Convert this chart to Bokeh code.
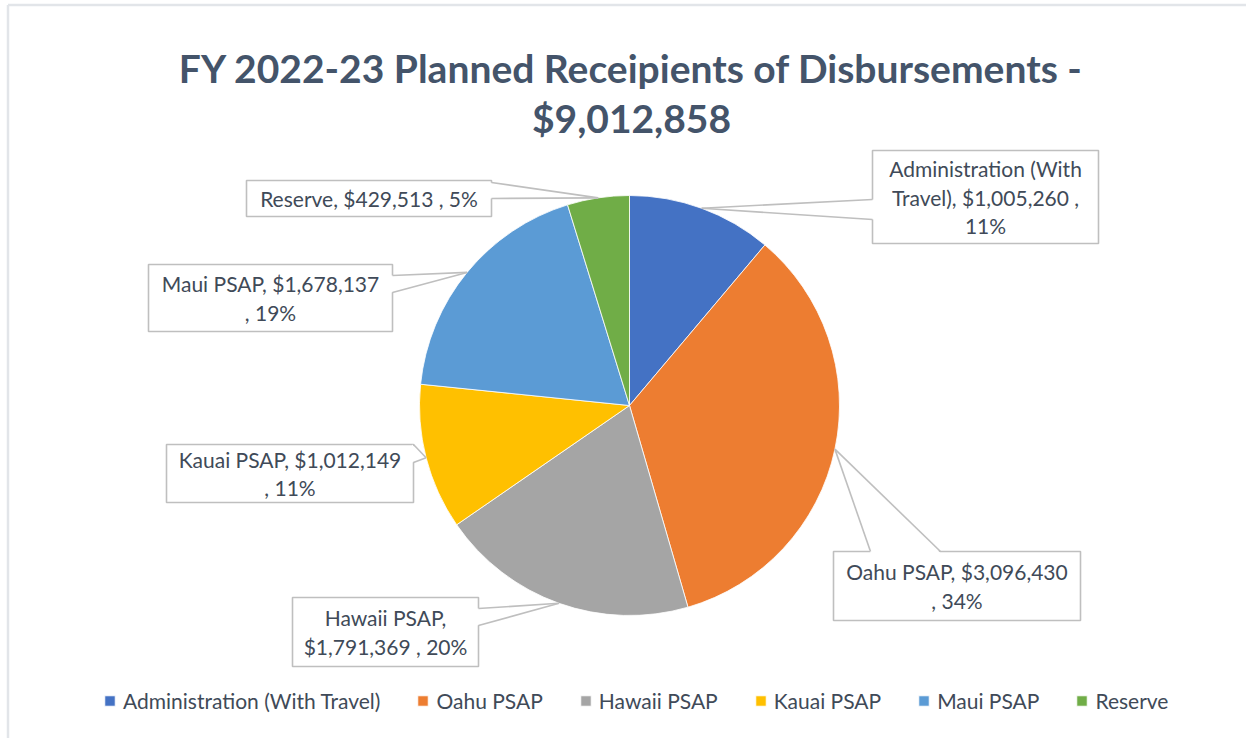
import math
from bokeh.plotting import figure
from bokeh.models import Legend, LegendItem, Label, ColumnDataSource
from bokeh.core.properties import value
from bokeh.embed import file_html
from bokeh.resources import INLINE

# ---------------- data ----------------
categories = ["Administration (With Travel)", "Oahu PSAP", "Hawaii PSAP",
              "Kauai PSAP", "Maui PSAP", "Reserve"]
amounts = [1005260, 3096430, 1791369, 1012149, 1678137, 429513]
title_text = "FY 2022-23 Planned Receipients of Disbursements -"

# ---------------- style / layout ----------------
colors = ["#4472C4", "#ED7D31", "#A5A5A5", "#FFC000", "#5B9BD5", "#70AD47"]
W, H = 1246, 738
CX, CY, R = 629, 405, 210            # pie centre / radius (px, from top-left)
FONT = "Lato"
TXT = "#404A58"
GRAY = "#BFBFBF"

# label boxes: (left, top, right, bottom) in px, wrap width (chars), pointer base points
label_boxes = [
    (872, 150, 1098, 243),
    (833, 551, 1080, 620),
    (292, 597, 478, 666),
    (166, 444, 413, 502),
    (148, 264, 392, 331),
    (246, 180, 491, 216),
]
wrap_widths = [21, 21, 16, 22, 21, 22]
pointer_bases = [
    ((872, 199), (872, 219)),
    ((870, 551), (940, 551)),
    ((478, 608), (478, 625)),
    ((413, 444), (413, 462)),
    ((392, 275), (392, 292)),
    ((491, 182), (491, 198)),
]


def Y(py):
    return H - py


def wrap(s, n):
    words = s.split(" ")
    lines, cur = [], ""
    for w in words:
        t = w if not cur else cur + " " + w
        if len(t) <= n or not cur:
            cur = t
        else:
            lines.append(cur)
            cur = w
    lines.append(cur)
    return "\n".join(lines)


total = sum(amounts)
fracs = [a / total for a in amounts]
starts, ends, mids = [], [], []
c = 0.0
for f in fracs:
    starts.append(math.pi / 2 - 2 * math.pi * c)
    mids.append(math.pi / 2 - 2 * math.pi * (c + f / 2))
    c += f
    ends.append(math.pi / 2 - 2 * math.pi * c)

p = figure(width=W, height=H, x_range=(0, W), y_range=(0, H),
           min_border=0, toolbar_location=None, output_backend="svg",
           x_axis_location=None, y_axis_location=None)
p.grid.visible = False
p.outline_line_color = None
p.background_fill_color = "white"
p.border_fill_color = "white"

# screenshot border lines (top / left)
p.segment(x0=[7.5, 7.5], y0=[Y(4.5), Y(4.5)], x1=[W, 7.5], y1=[Y(4.5), 0],
          line_color="#E2E5E9", line_width=2.5)

src = ColumnDataSource(dict(x=[CX] * len(amounts), y=[Y(CY)] * len(amounts),
                            start=starts, end=ends, color=colors))
wr = p.wedge(x="x", y="y", radius=R, start_angle="start", end_angle="end",
             direction="clock", fill_color="color", line_color="white",
             line_width=0.8, source=src)

# label boxes
bx, by, bw, bh = [], [], [], []
for (l, t, r, b) in label_boxes:
    bx.append((l + r) / 2)
    by.append(Y((t + b) / 2))
    bw.append(r - l)
    bh.append(b - t)
p.rect(x=bx, y=by, width=bw, height=bh, fill_color="white",
       line_color=GRAY, line_width=1.6)

# pointers
pxs, pys, lxs, lys = [], [], [], []
for i, ((x1, y1), (x2, y2)) in enumerate(pointer_bases):
    ax = CX + R * math.cos(mids[i])
    ay = Y(CY) + R * math.sin(mids[i])
    l, t, r, b = label_boxes[i]

    def inset(x, y):
        if x <= l + 0.5:
            return x + 1.5, y
        if x >= r - 0.5:
            return x - 1.5, y
        if y <= t + 0.5:
            return x, y + 1.5
        return x, y - 1.5
    ix1, iy1 = inset(x1, y1)
    ix2, iy2 = inset(x2, y2)
    pxs.append([ax, ix1, ix2])
    pys.append([ay, Y(iy1), Y(iy2)])
    lxs += [[ax, x1], [ax, x2]]
    lys += [[ay, Y(y1)], [ay, Y(y2)]]
p.patches(xs=pxs, ys=pys, fill_color="white", line_color=None)
p.multi_line(xs=lxs, ys=lys, line_color=GRAY, line_width=1.6)

# label texts
texts = []
for i, (cat, amt) in enumerate(zip(categories, amounts)):
    pct = round(100 * amt / total)
    s = f"{cat}, ${amt:,} , {pct}%"
    texts.append(wrap(s, wrap_widths[i]))
p.text(x=bx, y=by, text=texts, text_align="center", text_baseline="middle",
       text_font=value(FONT), text_font_size="21px", text_color=TXT,
       text_line_height=1.15)

# title
for txt, yy in ((title_text, 67), (f"${total:,}", 117)):
    p.add_layout(Label(x=631, y=Y(yy), text=txt, text_align="center",
                       text_baseline="alphabetic", text_font=FONT,
                       text_font_style="bold", text_font_size="39px",
                       text_color="#44546A"))

# legend
items = [LegendItem(label=cat, renderers=[wr], index=i)
         for i, cat in enumerate(categories)]
legend = Legend(items=items, orientation="horizontal", location=(103, 25),
                glyph_width=13, glyph_height=13, label_standoff=7, spacing=36,
                padding=0, margin=0, border_line_color=None,
                background_fill_alpha=0, label_text_font=FONT,
                label_text_font_size="21px", label_text_color=TXT,
                label_height=22)
p.add_layout(legend, "center")

open("out.html", "w").write(file_html(p, INLINE))
